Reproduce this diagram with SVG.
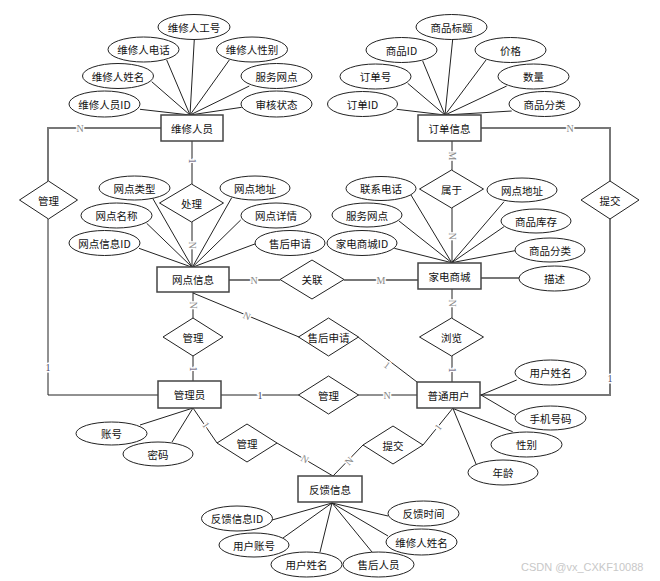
<svg xmlns="http://www.w3.org/2000/svg" width="660" height="581" viewBox="0 0 660 581">
<style>
.bg{fill:#fff}
.ent rect{fill:#fff;stroke:#444;stroke-width:1.5}
.att ellipse{fill:#fff;stroke:#222;stroke-width:1}
.rel polygon{fill:#fff;stroke:#222;stroke-width:1}
text{font-family:"Noto Sans CJK SC","Liberation Sans",sans-serif;font-size:10.5px;fill:#111;text-anchor:middle;dominant-baseline:central}
.al line{stroke:#222;stroke-width:1}
.cn polyline,.cn line{fill:none;stroke:#222;stroke-width:1}
.cn .g{stroke:#777;stroke-width:2}
.lb{font-family:"Liberation Serif",serif;font-size:10px;stroke:#fff;stroke-width:3;paint-order:stroke}
.ln{fill:#888}
.l1{fill:#4a3f66}
.wm{font-family:"Liberation Sans",sans-serif;font-size:11px;fill:#c8c8c8;text-anchor:start}
</style>
<rect class="bg" x="0" y="0" width="660" height="581"/>

<g id="connectors" class="cn">
<polyline class="g" points="161,128 48,128 48,181"/>
<polyline points="48,219 48,395 158,395"/>
<line x1="192" y1="141" x2="192" y2="184"/>
<line x1="192" y1="222" x2="192" y2="267"/>
<polyline class="g" points="481,128 610,128 610,181"/>
<polyline class="g" points="610,219 610,395 480,395"/>
<line x1="452" y1="141" x2="452" y2="170"/>
<line x1="452" y1="208" x2="452" y2="263"/>
<line class="g" x1="229" y1="280" x2="280" y2="280"/>
<line class="g" x1="344" y1="280" x2="418" y2="280"/>
<line x1="193" y1="292" x2="193" y2="318"/>
<line x1="193" y1="356" x2="193" y2="381"/>
<line x1="193" y1="293" x2="299" y2="337"/>
<line x1="358" y1="337" x2="417" y2="382"/>
<line x1="452" y1="289" x2="452" y2="318"/>
<line x1="452" y1="356" x2="452" y2="382"/>
<line x1="221" y1="395" x2="299" y2="395"/>
<line x1="358" y1="395" x2="417" y2="395"/>
<line x1="193" y1="408" x2="217" y2="443"/>
<line x1="277" y1="443" x2="333" y2="476"/>
<line x1="453" y1="408" x2="423" y2="445"/>
<line x1="363" y1="445" x2="333" y2="476"/>
<line class="g" x1="481" y1="278" x2="519" y2="278"/>
</g>

<g id="attr-lines" class="al">
<line x1="190" y1="115" x2="140" y2="109.3"/>
<line x1="190" y1="115" x2="151.7" y2="81.7"/>
<line x1="190" y1="115" x2="166.7" y2="60"/>
<line x1="190" y1="115" x2="194.3" y2="39.3"/>
<line x1="190" y1="115" x2="229.3" y2="60"/>
<line x1="190" y1="115" x2="249.3" y2="86"/>
<line x1="190" y1="115" x2="241.7" y2="107.3"/>
<line x1="445" y1="115" x2="396.7" y2="109.3"/>
<line x1="445" y1="115" x2="407.7" y2="83.3"/>
<line x1="445" y1="115" x2="422.7" y2="61"/>
<line x1="445" y1="115" x2="452.7" y2="39.3"/>
<line x1="445" y1="115" x2="486" y2="60"/>
<line x1="445" y1="115" x2="506.7" y2="86"/>
<line x1="445" y1="115" x2="511.7" y2="111"/>
<line x1="192.3" y1="267.3" x2="152.7" y2="198.3"/>
<line x1="192.3" y1="267.3" x2="146.7" y2="223.3"/>
<line x1="192.3" y1="267.3" x2="139" y2="248.3"/>
<line x1="192.3" y1="267.3" x2="231.7" y2="197.7"/>
<line x1="192.3" y1="267.3" x2="240.7" y2="220"/>
<line x1="192.3" y1="267.3" x2="256.7" y2="243.3"/>
<line x1="451.7" y1="262.7" x2="411" y2="195"/>
<line x1="451.7" y1="262.7" x2="399" y2="221"/>
<line x1="451.7" y1="262.7" x2="394.3" y2="248.3"/>
<line x1="451.7" y1="262.7" x2="504" y2="201.7"/>
<line x1="451.7" y1="262.7" x2="504" y2="226.7"/>
<line x1="451.7" y1="262.7" x2="515" y2="250.7"/>
<line x1="481" y1="395" x2="516.7" y2="380"/>
<line x1="481" y1="395" x2="515" y2="415"/>
<line x1="453" y1="408.5" x2="512.7" y2="431.7"/>
<line x1="453" y1="408.5" x2="476" y2="464"/>
<line x1="193" y1="408" x2="140" y2="425"/>
<line x1="193" y1="408" x2="172" y2="442"/>
<line x1="332" y1="503" x2="272" y2="520"/>
<line x1="332" y1="503" x2="283" y2="538"/>
<line x1="332" y1="503" x2="320" y2="552"/>
<line x1="332" y1="503" x2="372" y2="552"/>
<line x1="332" y1="503" x2="388" y2="536"/>
<line x1="332" y1="503" x2="388" y2="516"/>
</g>

<g id="labels">
<text class="lb ln" x="80" y="128">N</text>
<text class="lb l1" x="48" y="367">1</text>
<text class="lb ln" x="570" y="128">N</text>
<text class="lb l1" x="610" y="378">1</text>
<text class="lb l1" transform="translate(192,161) rotate(90)">1</text>
<text class="lb ln" transform="translate(192,245) rotate(90)">N</text>
<text class="lb ln" transform="translate(452,156) rotate(90)">M</text>
<text class="lb ln" transform="translate(452,236) rotate(90)">N</text>
<text class="lb ln" x="254" y="280">N</text>
<text class="lb ln" x="381" y="280">M</text>
<text class="lb ln" transform="translate(193,305) rotate(90)">N</text>
<text class="lb l1" transform="translate(193,369) rotate(90)">1</text>
<text class="lb ln" transform="translate(452,303) rotate(90)">N</text>
<text class="lb l1" transform="translate(452,370) rotate(90)">1</text>
<text class="lb ln" transform="translate(247,316) rotate(22.5)">N</text>
<text class="lb ln" transform="translate(387,365) rotate(37)">1</text>
<text class="lb l1" x="260" y="395">1</text>
<text class="lb ln" x="387" y="395">N</text>
<text class="lb ln" transform="translate(206,425) rotate(55)">1</text>
<text class="lb ln" transform="translate(305,459) rotate(30)">N</text>
<text class="lb ln" transform="translate(349,461) rotate(-46)">N</text>
<text class="lb ln" transform="translate(438,427) rotate(-51)">1</text>
</g>

<g id="e-weixiurenyuan" class="ent"><rect x="161" y="115" width="62" height="26"/><text x="192" y="128">维修人员</text></g>
<g id="e-dingdanxinxi" class="ent"><rect x="418" y="115" width="63" height="26"/><text x="449.5" y="128">订单信息</text></g>
<g id="e-wangdianxinxi" class="ent"><rect x="157" y="267" width="72" height="25"/><text x="193" y="279.5">网点信息</text></g>
<g id="e-jiadianshangcheng" class="ent"><rect x="418" y="263" width="63" height="26"/><text x="449.5" y="276">家电商城</text></g>
<g id="e-guanliyuan" class="ent"><rect x="158" y="381" width="63" height="27"/><text x="189.5" y="394.5">管理员</text></g>
<g id="e-putongyonghu" class="ent"><rect x="417" y="382" width="63" height="26"/><text x="448.5" y="395">普通用户</text></g>
<g id="e-fankuixinxi" class="ent"><rect x="298" y="476" width="64" height="26"/><text x="330" y="489">反馈信息</text></g>

<g id="r-guanli-left" class="rel"><polygon points="48.5,181 77.5,200 48.5,219 19.5,200"/><text x="48.5" y="200">管理</text></g>
<g id="r-chuli" class="rel"><polygon points="191.5,184 223.5,203 191.5,222 159.5,203"/><text x="191.5" y="203">处理</text></g>
<g id="r-shuyu" class="rel"><polygon points="451.5,170 483.5,189 451.5,208 419.5,189"/><text x="451.5" y="189">属于</text></g>
<g id="r-tijiao-right" class="rel"><polygon points="610,181 639,200 610,219 581,200"/><text x="610" y="200">提交</text></g>
<g id="r-guanlian" class="rel"><polygon points="312,260 344,279.5 312,299 280,279.5"/><text x="312" y="279.5">关联</text></g>
<g id="r-guanli-mid" class="rel"><polygon points="193,318 223,337 193,356 163,337"/><text x="193" y="337">管理</text></g>
<g id="r-shouhoushenqing" class="rel"><polygon points="328.5,318 358.5,337 328.5,356 298.5,337"/><text x="328.5" y="337">售后申请</text></g>
<g id="r-liulan" class="rel"><polygon points="451.5,318 483.5,337 451.5,356 419.5,337"/><text x="451.5" y="337">浏览</text></g>
<g id="r-guanli-user" class="rel"><polygon points="328.5,376 358.5,395 328.5,414 298.5,395"/><text x="328.5" y="395">管理</text></g>
<g id="r-guanli-fb" class="rel"><polygon points="247,424 277,443 247,462 217,443"/><text x="247" y="443">管理</text></g>
<g id="r-tijiao-fb" class="rel"><polygon points="393,426 423,445 393,464 363,445"/><text x="393" y="445">提交</text></g>

<g id="a-weixiuren" class="att">
<ellipse cx="194" cy="27" rx="36" ry="12.5"/><text x="194" y="27">维修人工号</text>
<ellipse cx="143.5" cy="49.5" rx="35.5" ry="12.5"/><text x="143.5" y="49.5">维修人电话</text>
<ellipse cx="252" cy="49.5" rx="35.5" ry="12.5"/><text x="252" y="49.5">维修人性别</text>
<ellipse cx="118" cy="76" rx="35.5" ry="12.5"/><text x="118" y="76">维修人姓名</text>
<ellipse cx="276.5" cy="76" rx="35.5" ry="12.5"/><text x="276.5" y="76">服务网点</text>
<ellipse cx="104.5" cy="104" rx="35.5" ry="13"/><text x="104.5" y="104">维修人员ID</text>
<ellipse cx="276.5" cy="104" rx="35.5" ry="13"/><text x="276.5" y="104">审核状态</text>
</g>
<g id="a-dingdan" class="att">
<ellipse cx="451.5" cy="27" rx="35.5" ry="12.5"/><text x="451.5" y="27">商品标题</text>
<ellipse cx="401.5" cy="50" rx="35.5" ry="12.5"/><text x="401.5" y="50">商品ID</text>
<ellipse cx="510.5" cy="50" rx="35.5" ry="12.5"/><text x="510.5" y="50">价格</text>
<ellipse cx="375.5" cy="76.5" rx="35.5" ry="12.5"/><text x="375.5" y="76.5">订单号</text>
<ellipse cx="533.5" cy="76.5" rx="35.5" ry="12.5"/><text x="533.5" y="76.5">数量</text>
<ellipse cx="362.5" cy="104" rx="35" ry="12.5"/><text x="362.5" y="104">订单ID</text>
<ellipse cx="544.5" cy="104" rx="35.5" ry="12.5"/><text x="544.5" y="104">商品分类</text>
</g>
<g id="a-wangdian" class="att">
<ellipse cx="134.5" cy="188" rx="35.5" ry="12"/><text x="134.5" y="188">网点类型</text>
<ellipse cx="255" cy="188" rx="35" ry="12"/><text x="255" y="188">网点地址</text>
<ellipse cx="116.5" cy="215.5" rx="35.5" ry="12.5"/><text x="116.5" y="215.5">网点名称</text>
<ellipse cx="276" cy="215.5" rx="35" ry="12.5"/><text x="276" y="215.5">网点详情</text>
<ellipse cx="104.5" cy="243" rx="35.5" ry="12.5"/><text x="104.5" y="243">网点信息ID</text>
<ellipse cx="290" cy="243" rx="35" ry="12.5"/><text x="290" y="243">售后申请</text>
</g>
<g id="a-shangcheng" class="att">
<ellipse cx="381" cy="188.5" rx="35" ry="12"/><text x="381" y="188.5">联系电话</text>
<ellipse cx="522" cy="190" rx="35" ry="12"/><text x="522" y="190">网点地址</text>
<ellipse cx="367" cy="215" rx="35" ry="12"/><text x="367" y="215">服务网点</text>
<ellipse cx="536" cy="221" rx="35" ry="12"/><text x="536" y="221">商品库存</text>
<ellipse cx="362" cy="243" rx="35" ry="12.5"/><text x="362" y="243">家电商城ID</text>
<ellipse cx="550" cy="250" rx="35" ry="12"/><text x="550" y="250">商品分类</text>
<ellipse cx="554.5" cy="278.5" rx="35.5" ry="12.5"/><text x="554.5" y="278.5">描述</text>
</g>
<g id="a-yonghu" class="att">
<ellipse cx="550.5" cy="372.5" rx="35.5" ry="12.5"/><text x="550.5" y="372.5">用户姓名</text>
<ellipse cx="550.5" cy="418" rx="35.5" ry="12"/><text x="550.5" y="418">手机号码</text>
<ellipse cx="526.5" cy="444.5" rx="35.5" ry="12.5"/><text x="526.5" y="444.5">性别</text>
<ellipse cx="503" cy="472.5" rx="35" ry="12.5"/><text x="503" y="472.5">年龄</text>
</g>
<g id="a-guanliyuan" class="att">
<ellipse cx="111.5" cy="433.5" rx="35.5" ry="11.5"/><text x="111.5" y="433.5">账号</text>
<ellipse cx="158" cy="454" rx="35" ry="12"/><text x="158" y="454">密码</text>
</g>
<g id="a-fankui" class="att">
<ellipse cx="237" cy="518.5" rx="35.5" ry="12.5"/><text x="237" y="518.5">反馈信息ID</text>
<ellipse cx="254" cy="545" rx="35" ry="12"/><text x="254" y="545">用户账号</text>
<ellipse cx="306.5" cy="564.5" rx="35.5" ry="12.5"/><text x="306.5" y="564.5">用户姓名</text>
<ellipse cx="378.5" cy="564.5" rx="35.5" ry="12.5"/><text x="378.5" y="564.5">售后人员</text>
<ellipse cx="421.5" cy="542" rx="35.5" ry="13"/><text x="421.5" y="542">维修人姓名</text>
<ellipse cx="423.5" cy="513.5" rx="35.5" ry="12.5"/><text x="423.5" y="513.5">反馈时间</text>
</g>

<text class="wm" x="521" y="567">CSDN @vx_CXKF10088</text>
</svg>
